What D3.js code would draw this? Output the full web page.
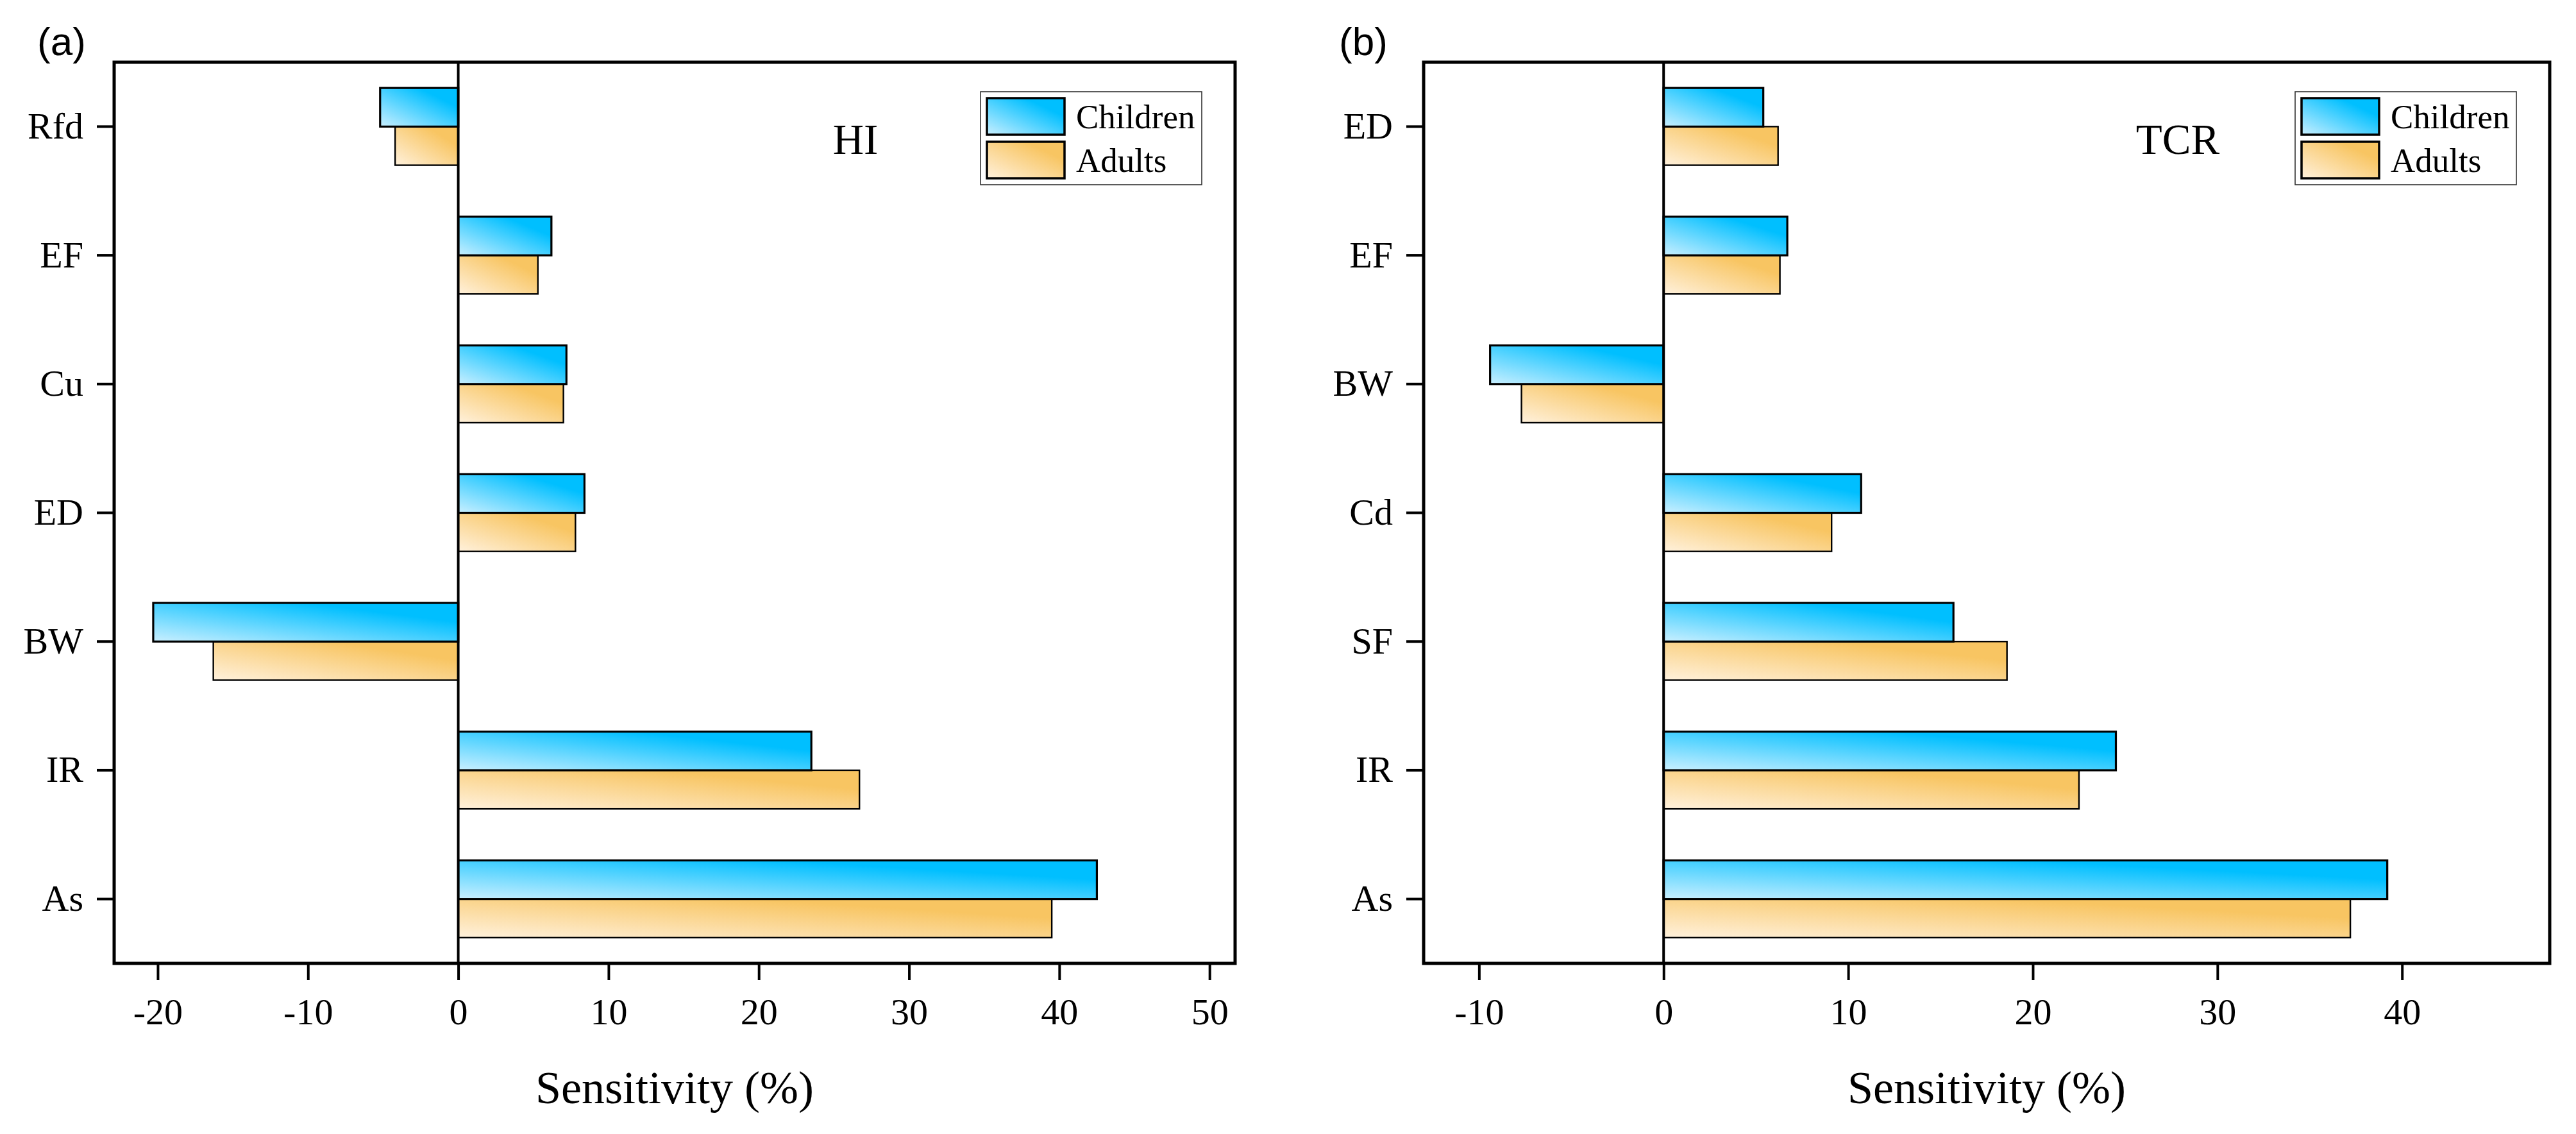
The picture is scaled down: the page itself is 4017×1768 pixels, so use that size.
<!DOCTYPE html>
<html>
<head>
<meta charset="utf-8">
<script src="https://cdn.jsdelivr.net/npm/d3@7"></script>
<style>
  body { margin: 0; background: #fff; }
  text { font-family: "Liberation Serif", "Times New Roman", serif; fill: #000; }
</style>
</head>
<body>
<div id="container"></div>
<script>
/* DATA */
const series = ["Children", "Adults"];

// panel (a) HI, listed top to bottom
const hiCategories = ["Rfd", "EF", "Cu", "ED", "BW", "IR", "As"];
const hiChildren = [-5.2, 6.2, 7.2, 8.4, -20.3, 23.5, 42.5];
const hiAdults = [-4.2, 5.3, 7.0, 7.8, -16.3, 26.7, 39.5];
const hiTicks = [-20, -10, 0, 10, 20, 30, 40, 50];

// panel (b) TCR
const tcrCategories = ["ED", "EF", "BW", "Cd", "SF", "IR", "As"];
const tcrChildren = [5.4, 6.7, -9.4, 10.7, 15.7, 24.5, 39.2];
const tcrAdults = [6.2, 6.3, -7.7, 9.1, 18.6, 22.5, 37.2];
const tcrTicks = [-10, 0, 10, 20, 30, 40];

/* CONSTANTS */
const width = 4017, height = 1768;
const plotTop = 97, plotBottom = 1502;

const svg = d3.select("#container")
  .append("svg")
  .attr("width", width)
  .attr("height", height);

// GRADIENTS: light at bottom-left, strong at top-right
const defs = svg.append("defs");
const grads = [
  { id: "gradChildren", light: "#c9efff", dark: "#00bfff" },
  { id: "gradAdults", light: "#fff1dc", dark: "#f8c562" }
];
grads.forEach(g => {
  const lg = defs.append("linearGradient")
    .attr("id", g.id)
    .attr("x1", 0).attr("y1", 1)
    .attr("x2", 1).attr("y2", 0);
  lg.append("stop").attr("offset", "0%").attr("stop-color", g.light);
  lg.append("stop").attr("offset", "75%").attr("stop-color", g.dark);
  lg.append("stop").attr("offset", "100%").attr("stop-color", g.dark);
});
const fillFor = { Children: "url(#gradChildren)", Adults: "url(#gradAdults)" };
const strokeFor = { Children: 3.2, Adults: 2.4 };

function drawPanel(p) {
  const x = d3.scaleLinear().domain(p.domain).range([p.left, p.right]);
  const y = d3.scaleBand()
    .domain(p.categories)
    .range([plotTop, plotBottom])
    .paddingInner(0.4)
    .paddingOuter(0.2);
  const sub = d3.scaleBand().domain(series).range([0, y.bandwidth()]);

  const rows = p.categories.map((c, i) => ({
    cat: c,
    values: [
      { key: "Children", value: p.children[i] },
      { key: "Adults", value: p.adults[i] }
    ]
  }));

  const g = svg.append("g");

  // BARS (adults first so children stroke sits on top)
  const bars = rows.flatMap(r => r.values.map(v => ({ cat: r.cat, ...v })))
    .sort((a, b) => (a.key === "Adults" ? -1 : 1) - (b.key === "Adults" ? -1 : 1));

  g.selectAll("rect.bar")
    .data(bars)
    .join("rect")
    .attr("class", "bar")
    .attr("x", d => x(Math.min(0, d.value)))
    .attr("y", d => y(d.cat) + sub(d.key))
    .attr("width", d => Math.abs(x(d.value) - x(0)))
    .attr("height", sub.bandwidth())
    .attr("fill", d => fillFor[d.key])
    .attr("stroke", "#000")
    .attr("stroke-width", d => strokeFor[d.key]);

  // ZERO LINE
  g.append("line")
    .attr("x1", x(0)).attr("x2", x(0))
    .attr("y1", plotTop).attr("y2", plotBottom)
    .attr("stroke", "#000")
    .attr("stroke-width", 4);

  // AXES
  const yAxis = g.append("g")
    .attr("transform", `translate(${p.left},0)`)
    .call(d3.axisLeft(y).tickSize(27).tickPadding(21));
  const xAxis = g.append("g")
    .attr("transform", `translate(0,${plotBottom})`)
    .call(d3.axisBottom(x).tickValues(p.ticks).tickSize(26).tickPadding(28).tickFormat(d => String(d)));

  [yAxis, xAxis].forEach(a => {
    a.select(".domain").remove();
    a.selectAll(".tick line").attr("stroke", "#000").attr("stroke-width", 4);
    a.selectAll(".tick text")
      .attr("fill", "#000")
      .style("font-family", '"Liberation Serif", "Times New Roman", serif')
      .style("font-size", "58px");
  });

  // FRAME
  g.append("rect")
    .attr("x", p.left).attr("y", plotTop)
    .attr("width", p.right - p.left)
    .attr("height", plotBottom - plotTop)
    .attr("fill", "none")
    .attr("stroke", "#000")
    .attr("stroke-width", 5);

  // AXIS TITLE
  g.append("text")
    .attr("x", (p.left + p.right) / 2)
    .attr("y", 1720)
    .attr("text-anchor", "middle")
    .style("font-size", "72px")
    .text("Sensitivity (%)");

  // INDEX LABEL (HI / TCR)
  g.append("text")
    .attr("x", p.left + p.titleOffset)
    .attr("y", 240)
    .attr("text-anchor", "middle")
    .style("font-size", "67px")
    .text(p.title);

  // PANEL LETTER
  g.append("text")
    .attr("x", p.left - p.letterOffset)
    .attr("y", 86)
    .style("font-family", '"Liberation Sans", Arial, sans-serif')
    .style("font-size", "62px")
    .text(p.letter);

  // LEGEND
  const lgX = p.right - 52 - 345, lgY = 143;
  const legend = g.append("g").attr("transform", `translate(${lgX},${lgY})`);
  legend.append("rect")
    .attr("width", 345).attr("height", 145)
    .attr("fill", "#fff")
    .attr("stroke", "#333")
    .attr("stroke-width", 1.6);
  const item = legend.selectAll("g.item")
    .data(series)
    .join("g")
    .attr("class", "item")
    .attr("transform", (d, i) => `translate(10,${10 + i * 68})`);
  item.append("rect")
    .attr("width", 121).attr("height", 57)
    .attr("fill", d => fillFor[d])
    .attr("stroke", "#000")
    .attr("stroke-width", 3.5);
  item.append("text")
    .attr("x", 139)
    .attr("y", 47)
    .style("font-size", "53px")
    .text(d => d);
}

drawPanel({
  categories: hiCategories, children: hiChildren, adults: hiAdults,
  ticks: hiTicks, domain: [-22.9, 51.7],
  left: 178, right: 1926,
  title: "HI", titleOffset: 1156,
  letter: "(a)", letterOffset: 120
});

drawPanel({
  categories: tcrCategories, children: tcrChildren, adults: tcrAdults,
  ticks: tcrTicks, domain: [-13, 48],
  left: 2220, right: 3976,
  title: "TCR", titleOffset: 1176,
  letter: "(b)", letterOffset: 132
});
</script>
</body>
</html>
